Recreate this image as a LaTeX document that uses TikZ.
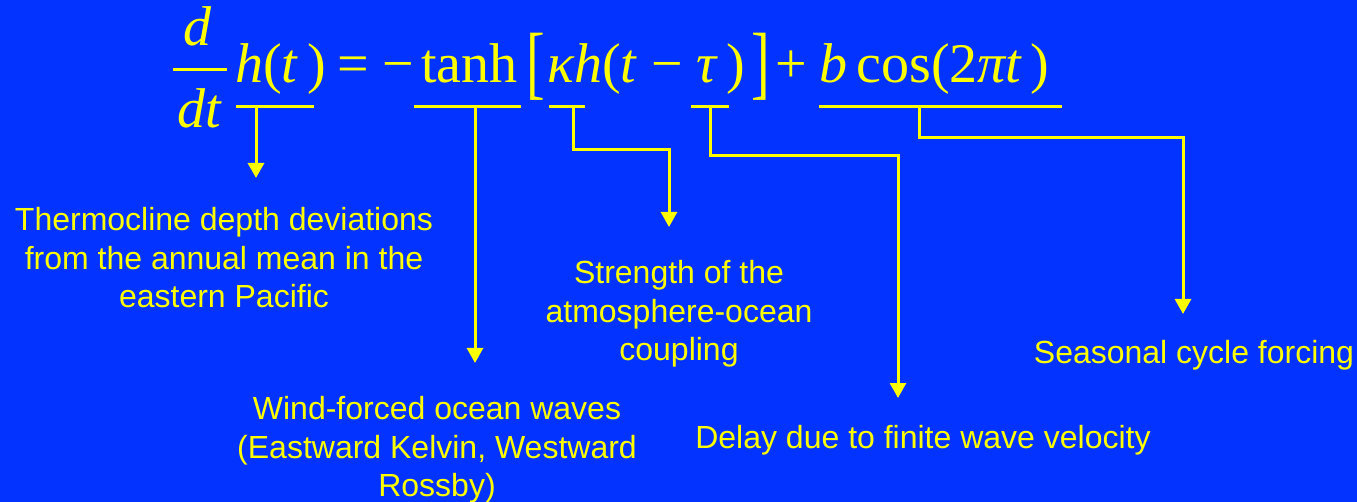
\documentclass[tikz,border=0pt]{standalone}
\usepackage{fontspec}
\setmainfont{Liberation Serif}
\newfontfamily\lsans{Liberation Sans}
\usetikzlibrary{arrows.meta}
\definecolor{bg}{RGB}{3,51,255}
\definecolor{yel}{RGB}{255,255,0}
\tikzset{
  eq/.style={inner sep=0pt, text=yel, font=\fontsize{56}{60}\selectfont, anchor=base west},
  lab/.style={inner sep=0pt, text=yel, align=center, font=\lsans\fontsize{32}{38.5}\selectfont},
  uline/.style={draw=yel, line width=3pt},
  conn/.style={draw=yel, line width=3pt, -{Triangle[length=15pt,width=16pt]}},
}
\begin{document}
\begin{tikzpicture}[x=1pt,y=-1pt]
\fill[bg] (0,0) rectangle (1357,502);
\useasboundingbox (0,0) rectangle (1357,502);
% equation
\node[eq, anchor=base] (dnum) at (198,46) {\textit{d}};
\draw[uline] (173,70) -- (227,70);
\node[eq, anchor=base] (dden) at (200,128) {\textit{dt}};
\node[eq] (ht) at (235,83) {\textit{h}(\textit{t}\,)};
\node[eq] (eqs) at (337,83) {=};
\node[eq] (minus) at (382,83) {\textminus};
\node[eq] (tanh) at (421,83) {tanh};
\node[eq] (lb) at (526,90) {\scalebox{1}[1.45]{[}};
\node[eq] (kh) at (547,83) {\textit{κh}(\textit{t} \textminus\ \textit{τ\,})};
\node[eq] (rb) at (751,90) {\scalebox{1}[1.45]{]}};
\node[eq] (plus) at (775,83) {+};
\node[eq] (bcos) at (819,83) {\textit{b}\,cos(2\textit{πt\,})};
% underlines
\coordinate (u1a) at (236,107); \coordinate (u1b) at (314,107); \coordinate (u1) at (256,107);
\coordinate (u2a) at (414,107); \coordinate (u2b) at (521,107); \coordinate (u2) at (475,107);
\coordinate (u3a) at (549,107); \coordinate (u3b) at (585,107); \coordinate (u3) at (573,107);
\coordinate (u4a) at (691,107); \coordinate (u4b) at (729,107); \coordinate (u4) at (710,107);
\coordinate (u5a) at (819,107); \coordinate (u5b) at (1062,107); \coordinate (u5) at (919,107);
\draw[uline] (u1a) -- (u1b);
\draw[uline] (u2a) -- (u2b);
\draw[uline] (u3a) -- (u3b);
\draw[uline] (u4a) -- (u4b);
\draw[uline] (u5a) -- (u5b);
% labels
\node[lab] (t1) at (224,258) {Thermocline depth deviations\\from the annual mean in the\\eastern Pacific};
\node[lab] (t2) at (679,314) {Strength of the\\atmosphere-ocean\\coupling};
\node[lab] (t3) at (437,450) {Wind-forced ocean waves\\(Eastward Kelvin, Westward\\Rossby)};
\node[lab] (t4) at (923,440) {Delay due to finite wave velocity};
\node[lab] (t5) at (1194,355) {Seasonal cycle forcing};
% arrow tips
\coordinate (p1) at (256,178);
\coordinate (p2) at (475,363);
\coordinate (p3) at (669,227);
\coordinate (p4) at (898,398);
\coordinate (p5) at (1183,314);
\draw[conn] (u1) -- (p1);
\draw[conn] (u2) -- (p2);
\draw[conn] (u3) |- (669,150) -- (p3);
\draw[conn] (u4) |- (898,156) -- (p4);
\draw[conn] (u5) |- (1183,138) -- (p5);
\end{tikzpicture}
\end{document}
